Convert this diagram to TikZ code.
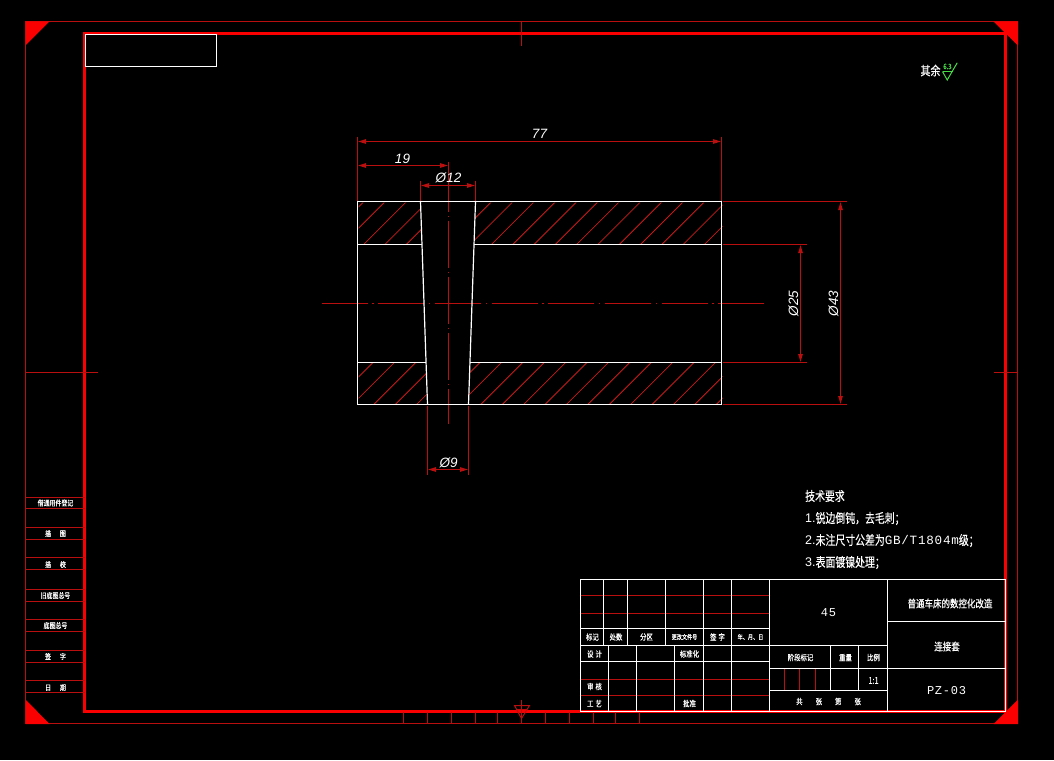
\documentclass[tikz,border=0pt]{standalone}
\usepackage{fontspec}
\usepackage{tikz}
\usetikzlibrary{arrows.meta}
\newfontfamily\cjk[FakeStretch=0.76,FakeBold=0.25]{Noto Sans CJK SC}
\newfontfamily\cjkb[FakeStretch=0.8,FakeBold=0.6]{Noto Sans CJK SC}
\newfontfamily\shx[LetterSpace=6]{Liberation Mono}
\newfontfamily\shxs{Liberation Sans}
\newfontfamily\shxit{Liberation Sans Italic}
\definecolor{framered}{RGB}{250,0,0}
\definecolor{linered}{RGB}{185,15,15}
\definecolor{hatchred}{RGB}{200,25,25}
\definecolor{signgreen}{RGB}{70,220,70}
\tikzset{
    >={Triangle[length=8.5pt,width=4.2pt]},
    thin frame/.style={draw=linered, line width=1.8pt},
    thick frame/.style={draw=framered, line width=3pt},
    corner mark/.style={fill=framered, draw=none},
    strip line/.style={draw=linered, line width=1.8pt},
    outline/.style={draw=white, line width=1.2pt},
    table line/.style={draw=white, line width=1.2pt},
    table red/.style={draw=linered, line width=1.8pt},
    hatch/.style={draw=hatchred, line width=0.8pt},
    center line/.style={draw=linered, line width=1.8pt},
    ext line/.style={draw=linered, line width=1.8pt},
    dim line/.style={<->, color=linered, line width=1.8pt},
    dim label/.style={text=white, inner sep=0pt, font=\fontsize{13.5}{14}\shxit},
    small label/.style={text=white, inner sep=0pt, font=\fontsize{8}{8}\cjkb},
    tiny label/.style={text=white, inner sep=0pt, font=\fontsize{6.4}{8}\cjkb},
    strip label/.style={text=white, inner sep=0pt, font=\fontsize{7.4}{8}\cjkb},
    title label/.style={text=white, inner sep=0pt, font=\fontsize{10.6}{11}\cjkb},
    note label/.style={text=white, inner sep=0pt, anchor=west, font=\fontsize{13}{14}\cjk},
    latin label/.style={text=white, inner sep=0pt, font=\fontsize{12}{12}\shx}
}
\newcommand{\lat}[1]{{\fontsize{12.6}{13}\shx #1}}
\newcommand{\num}[1]{{\fontsize{12.5}{13}\shxs #1}}
\begin{document}
\begin{tikzpicture}[x=1pt, y=-1pt]
    \fill[black] (-0.5,-0.5) rectangle (1053.5,759.5);
    \useasboundingbox (-0.5,-0.5) rectangle (1053.5,759.5);

    % Sheet frame
    \draw[thin frame] (25,21) rectangle (1017,723);
    \draw[thick frame] (84,33) rectangle (1005,711);
    \fill[corner mark] (25,21) -- (49,21) -- (25,45) -- cycle;
    \fill[corner mark] (993,21) -- (1017.5,21) -- (1017.5,45) -- cycle;
    \fill[corner mark] (25,699) -- (25,723.5) -- (49,723.5) -- cycle;
    \fill[corner mark] (1017.5,699) -- (1017.5,723.5) -- (993,723.5) -- cycle;

    % Centre marks
    \draw[thin frame] (521,21) -- (521,46);
    \draw[thin frame] (25,372) -- (97,372);
    \draw[thin frame] (993,372) -- (1017,372);
    \draw[thin frame] (521,699) -- (521,723);
    \draw[thin frame, line width=1pt] (514,705) -- (529,705) -- (521,718) -- cycle;
    \draw[thin frame, line width=1pt] (516,709) -- (526,709);

    % Zone ticks along the bottom
    \foreach \tx in {403,427,451,475,497,545,569,593,615,639}
        \draw[strip line] (\tx,711) -- (\tx,723);

    % Left strip
    \foreach \ty in {497,508,527,539,557,569,589,601,619,631,650,662,680,692}
        \draw[strip line] (25,\ty) -- (84,\ty);
    \node[strip label] (borrow) at (55,502.5) {借通用件登记};
    \node[strip label] (trace) at (55,533) {描\hspace{9pt}图};
    \node[strip label] (check) at (55,564) {描\hspace{9pt}校};
    \node[strip label] (oldno) at (55,595) {旧底图总号};
    \node[strip label] (baseno) at (55,625) {底图总号};
    \node[strip label] (sign) at (55,656) {签\hspace{9pt}字};
    \node[strip label] (date) at (55,687) {日\hspace{9pt}期};

    % Empty box at the top left
    \draw[table line] (85,34) rectangle (216,66);

    % Roughness note
    \node[text=white, inner sep=0pt, font=\fontsize{12.5}{13}\cjkb] (rest) at (930,70) {其余};
    \draw[draw=signgreen, line width=1pt] (942,71) -- (952,71);
    \draw[draw=signgreen, line width=1pt] (942,71) -- (946.7,79.5) -- (956.7,62.3);
    \node[text=signgreen, inner sep=0pt, font=\fontsize{7.5}{7}\cjkb] (rough) at (947,66) {6.3};

    % Hatching
    \begin{scope}
        \clip (358,202) -- (420,202) -- (421.5,244) -- (358,244) -- cycle;
        \foreach \k in {0,...,4}
            \draw[hatch] ({363+21.3*\k},201.5) -- ({320+21.3*\k},244.5);
    \end{scope}
    \begin{scope}
        \clip (475,202) -- (722,202) -- (722,244) -- (473.5,244) -- cycle;
        \foreach \k in {4,...,18}
            \draw[hatch] ({363+21.3*\k},201.5) -- ({320+21.3*\k},244.5);
    \end{scope}
    \begin{scope}
        \clip (358,362) -- (425.5,362) -- (427,404) -- (358,404) -- cycle;
        \foreach \k in {0,...,4}
            \draw[hatch] ({372+21.4*\k},362.5) -- ({330.5+21.4*\k},404);
    \end{scope}
    \begin{scope}
        \clip (469.5,362) -- (722,362) -- (722,404) -- (468,404) -- cycle;
        \foreach \k in {4,...,18}
            \draw[hatch] ({372+21.4*\k},362.5) -- ({330.5+21.4*\k},404);
    \end{scope}

    % Centre lines
    \draw[center line, dash pattern=on 46pt off 4.8pt on 1.2pt off 4.67pt] (321,303) -- (763,303);
    \draw[center line, dash pattern=on 46.5pt off 4.5pt on 1.2pt off 3.8pt] (448,164.5) -- (448,423);

    % Extension lines
    \draw[ext line] (357,136) -- (357,200);
    \draw[ext line] (721,136) -- (721,200);
    \draw[ext line] (448,161) -- (448,200);
    \draw[ext line] (420,180) -- (420,200);
    \draw[ext line] (475,180) -- (475,200);
    \draw[ext line] (427,405) -- (427,474.5);
    \draw[ext line] (468,405) -- (468,474.5);
    \draw[ext line] (722,244) -- (806,244);
    \draw[ext line] (722,362) -- (806,362);
    \draw[ext line] (722,201) -- (846,201);
    \draw[ext line] (722,404) -- (846,404);

    % Part outline
    \draw[outline] (357,201) rectangle (721,404);
    \draw[outline] (357,244) -- (421.5,244);
    \draw[outline] (473.5,244) -- (721,244);
    \draw[outline] (357,362) -- (425.5,362);
    \draw[outline] (469.5,362) -- (721,362);
    \draw[outline] (420,201) -- (427,404);
    \draw[outline] (475,201) -- (468,404);

    % Dimensions
    \coordinate (len77a) at (357,141);
    \coordinate (len77b) at (721,141);
    \coordinate (len19a) at (357,165);
    \coordinate (len19b) at (448,165);
    \coordinate (dia12a) at (420,185);
    \coordinate (dia12b) at (475,185);
    \coordinate (dia9a) at (427,469);
    \coordinate (dia9b) at (468,469);
    \coordinate (dia25a) at (800,244);
    \coordinate (dia25b) at (800,362);
    \coordinate (dia43a) at (840,201);
    \coordinate (dia43b) at (840,404);
    \draw[dim line] (len77a) -- (len77b);
    \draw[dim line] (len19a) -- (len19b);
    \draw[dim line] (dia12a) -- (dia12b);
    \draw[dim line] (dia9a) -- (dia9b);
    \draw[dim line] (dia25a) -- (dia25b);
    \draw[dim line] (dia43a) -- (dia43b);
    \node[dim label] (val77) at (539,133.5) {77};
    \node[dim label] (val19) at (402,158) {19};
    \node[dim label] (val12) at (448,177.5) {Ø12};
    \node[dim label] (val9) at (448,462) {Ø9};
    \node[dim label, rotate=90] (val25) at (793,303) {Ø25};
    \node[dim label, rotate=90] (val43) at (833,303) {Ø43};

    % Technical notes
    \node[note label] (notehead) at (804.5,495.5) {技术要求};
    \node[note label] (note1) at (804.5,518) {\num{1.}锐边倒钝，去毛刺；};
    \node[note label] (note2) at (804.5,540) {\num{2.}未注尺寸公差为\lat{GB/T1804m}级；};
    \node[note label] (note3) at (804.5,562) {\num{3.}表面镀镍处理；};

    % Title block, lines
    \foreach \ty in {595,613,679,695}
        \draw[table red] (580.6,\ty) -- (768.4,\ty);
    \foreach \tx in {784,799,815}
        \draw[table red] (\tx,668.6) -- (\tx,689.4);
    \draw[table line] (580,579) rectangle (1005,711);
    \foreach \tx in {603,627,665}
        \draw[table line] (\tx,579) -- (\tx,645);
    \foreach \tx in {703,731,769}
        \draw[table line] (\tx,579) -- (\tx,711);
    \foreach \tx in {608,636,674}
        \draw[table line] (\tx,645) -- (\tx,711);
    \draw[table line] (887,579) -- (887,711);
    \draw[table line] (580,628) -- (769,628);
    \draw[table line] (580,645) -- (887,645);
    \draw[table line] (580,661) -- (769,661);
    \draw[table line] (887,621) -- (1005,621);
    \draw[table line] (769,668) -- (1005,668);
    \draw[table line] (769,690) -- (887,690);
    \draw[table line] (830,645) -- (830,690);
    \draw[table line] (858,645) -- (858,690);

    % Title block, labels
    \node[small label] (mark) at (592,636.5) {标记};
    \node[small label] (count) at (615.5,636.5) {处数};
    \node[small label] (zone) at (646,636.5) {分区};
    \node[tiny label] (docno) at (684,636.5) {更改文件号};
    \node[small label] (signed) at (717,636.5) {签\hspace{2pt}字};
    \node[tiny label] (ymd) at (750,636.5) {年、月、日};
    \node[small label] (design) at (594,653.5) {设\hspace{2pt}计};
    \node[small label] (standard) at (689,653.5) {标准化};
    \node[small label] (review) at (594,686) {审\hspace{2pt}核};
    \node[small label] (craft) at (594,703) {工\hspace{2pt}艺};
    \node[small label] (approve) at (689,703) {批准};
    \node[small label] (stage) at (800,657) {阶段标记};
    \node[small label] (weight) at (845,657) {重量};
    \node[small label] (ratio) at (873,657) {比例};
    \node[small label] (sheets) at (828,701) {共\hspace{13pt}张\hspace{13pt}第\hspace{13pt}张};
    \node[latin label] (material) at (828,612) {45};
    \node[text=white, inner sep=0pt, font=\fontsize{9.5}{10}\cjk] (ratioval) at (873,680) {1:1};
    \node[latin label] (drawno) at (946,690) {PZ-03};
    \node[title label] (project) at (949.5,603) {普通车床的数控化改造};
    \node[title label] (partname) at (946.5,646) {连接套};
\end{tikzpicture}
\end{document}
